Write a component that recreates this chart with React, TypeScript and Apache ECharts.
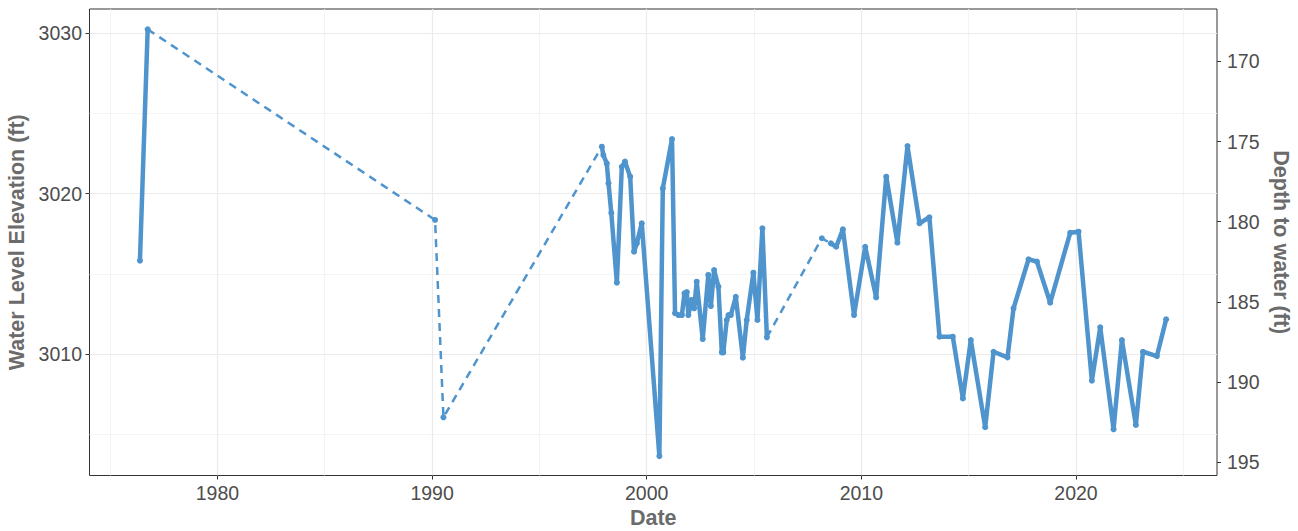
import React, { useEffect, useRef } from "react";
import * as echarts from "echarts";

// Measurement dates (decimal years) and water level elevations (ft)
const years = [
  1976.39, 1976.75, 1990.14, 1990.53, 1997.91, 1997.98, 1998.14, 1998.22, 1998.35, 1998.61,
  1998.84, 1998.99, 1999.23, 1999.41, 1999.54, 1999.77, 2000.59, 2000.75, 2001.18, 2001.32,
  2001.48, 2001.64, 2001.76, 2001.87, 2001.94, 2002.1, 2002.21, 2002.33, 2002.61, 2002.87,
  2002.99, 2003.14, 2003.34, 2003.5, 2003.57, 2003.73, 2003.81, 2003.92, 2004.15, 2004.48,
  2004.66, 2004.97, 2005.16, 2005.39, 2005.6, 2008.16, 2008.58, 2008.83, 2009.14, 2009.66,
  2010.18, 2010.69, 2011.16, 2011.68, 2012.15, 2012.71, 2013.17, 2013.64, 2014.26, 2014.73,
  2015.1, 2015.77, 2016.16, 2016.81, 2017.09, 2017.79, 2018.18, 2018.8, 2019.73, 2020.12,
  2020.74, 2021.13, 2021.75, 2022.14, 2022.79, 2023.12, 2023.77, 2024.2,
];
const levels = [
  3015.82, 3030.25, 3018.36, 3006.05, 3022.93, 3022.41, 3021.89, 3020.65, 3018.8, 3014.45,
  3021.68, 3022.0, 3021.06, 3016.38, 3016.9, 3018.15, 3003.63, 3020.33, 3023.41, 3012.54,
  3012.43, 3012.43, 3013.78, 3013.86, 3012.43, 3013.37, 3012.85, 3014.51, 3010.93, 3014.93,
  3012.99, 3015.24, 3014.2, 3010.1, 3010.1, 3012.12, 3012.43, 3012.43, 3013.57, 3009.77,
  3012.12, 3015.07, 3012.12, 3017.84, 3011.04, 3017.22, 3016.9, 3016.69, 3017.78, 3012.43,
  3016.69, 3013.53, 3021.06, 3016.94, 3022.97, 3018.15, 3018.53, 3011.08, 3011.08, 3007.23,
  3010.87, 3005.43, 3010.14, 3009.79, 3012.85, 3015.91, 3015.76, 3013.2, 3017.56, 3017.63,
  3008.33, 3011.66, 3005.3, 3010.87, 3005.57, 3010.14, 3009.87, 3012.16,
];
// Segments (index of starting point) drawn dashed = data gaps
const dashedSegments = [1, 2, 3, 44, 45];

// Ground surface elevation: depth to water = surface - elevation
const surfaceElevation = 3198.25;

const elevationTicks = [3010, 3020, 3030];
const elevationMinor = [3005, 3015, 3025];
const depthTicks = [170, 175, 180, 185, 190, 195];
const yearTicks = [1980, 1990, 2000, 2010, 2020];
const yearMinor = [1975, 1985, 1995, 2005, 2015, 2025];

const xRange = [1974.04, 2026.57];
const elevRange = [3002.42, 3031.52];

const BLUE = "#4F94CD";
const FONT = "'Liberation Sans', Arial, sans-serif";

export default function App() {
  const ref = useRef<HTMLDivElement>(null);

  useEffect(() => {
    if (!ref.current) return;
    const chart = echarts.init(ref.current, null, { renderer: "svg" });
    const dashedSet = new Set(dashedSegments);
    const n = years.length;

    const solidData: any[] = [];
    const dashedData: any[] = [];
    for (let i = 0; i < n; i++) {
      solidData.push([years[i], levels[i]]);
      dashedData.push([years[i], levels[i]]);
      if (i < n - 1) {
        if (dashedSet.has(i)) solidData.push([years[i], "-"]);
        else dashedData.push([years[i], "-"]);
      }
    }

    const tickLabel = { color: "#4d4d4d", fontSize: 19.5, fontFamily: FONT };
    const nameStyle = { color: "#6b6b6b", fontSize: 21.5, fontWeight: "bold" as const, fontFamily: FONT };

    chart.setOption({
      animation: false,
      backgroundColor: "#ffffff",
      grid: {
        left: 89.5,
        right: 81,
        top: 9,
        bottom: 55.5,
        show: true,
        borderColor: "#333333",
        borderWidth: 1,
        backgroundColor: "transparent",
        containLabel: false,
        outerBoundsMode: "none",
      },
      xAxis: [
        {
          type: "value",
          min: xRange[0],
          max: xRange[1],
          name: "Date",
          nameLocation: "middle",
          nameGap: 31,
          nameTextStyle: { ...nameStyle, verticalAlign: "middle" },
          axisLine: { show: false },
          axisTick: { show: true, length: 4, customValues: yearTicks, lineStyle: { color: "#333333", width: 1 } },
          axisLabel: { ...tickLabel, margin: 7, customValues: yearTicks, formatter: (v: number) => String(v) },
          splitLine: { show: true, lineStyle: { color: "#ebebeb", width: 1.2 } },
          z: 1,
        },
        {
          type: "value",
          min: xRange[0],
          max: xRange[1],
          position: "bottom",
          axisLine: { show: false },
          axisTick: { show: false, customValues: yearMinor },
          axisLabel: { show: false, customValues: yearMinor },
          splitLine: { show: true, lineStyle: { color: "#f3f3f3", width: 0.9 } },
          z: 0,
        },
      ],
      yAxis: [
        {
          type: "value",
          min: elevRange[0],
          max: elevRange[1],
          position: "left",
          name: "Water Level Elevation (ft)",
          nameLocation: "middle",
          nameGap: 50,
          nameTextStyle: nameStyle,
          axisLine: { show: false },
          axisTick: { show: true, length: 4, customValues: elevationTicks, lineStyle: { color: "#333333", width: 1 } },
          axisLabel: { ...tickLabel, margin: 7.5, customValues: elevationTicks, formatter: (v: number) => String(v) },
          splitLine: { show: true, lineStyle: { color: "#ebebeb", width: 1.2 } },
          z: 1,
        },
        {
          type: "value",
          min: surfaceElevation - elevRange[1],
          max: surfaceElevation - elevRange[0],
          inverse: true,
          position: "right",
          name: "Depth to water (ft)",
          nameLocation: "middle",
          nameRotate: -90,
          nameGap: 48,
          nameTextStyle: nameStyle,
          axisLine: { show: false },
          axisTick: { show: true, length: 4, customValues: depthTicks, lineStyle: { color: "#333333", width: 1 } },
          axisLabel: { ...tickLabel, margin: 10, customValues: depthTicks, formatter: (v: number) => String(v) },
          splitLine: { show: false },
        },
        {
          type: "value",
          min: elevRange[0],
          max: elevRange[1],
          position: "left",
          offset: 0,
          axisLine: { show: false },
          axisTick: { show: false, customValues: elevationMinor },
          axisLabel: { show: false, customValues: elevationMinor },
          splitLine: { show: true, lineStyle: { color: "#f3f3f3", width: 0.9 } },
          z: 0,
        },
      ],
      series: [
        {
          type: "line",
          name: "gaps",
          xAxisIndex: 0,
          yAxisIndex: 0,
          data: dashedData,
          showSymbol: false,
          connectNulls: false,
          lineStyle: { color: BLUE, width: 2.5, type: [8, 6] },
          z: 3,
          silent: true,
        },
        {
          type: "line",
          name: "level",
          xAxisIndex: 0,
          yAxisIndex: 0,
          data: solidData,
          symbol: "circle",
          symbolSize: 6,
          showSymbol: true,
          showAllSymbol: true,
          connectNulls: false,
          itemStyle: { color: BLUE, borderWidth: 0 },
          lineStyle: { color: BLUE, width: 4.5, join: "round", cap: "round" },
          z: 4,
          silent: true,
        },
      ],
    });

    return () => chart.dispose();
  }, []);

  return (
    <div
      ref={ref}
      style={{ position: "fixed", left: 0, top: 0, width: 1298, height: 531, background: "#fff" }}
    />
  );
}
